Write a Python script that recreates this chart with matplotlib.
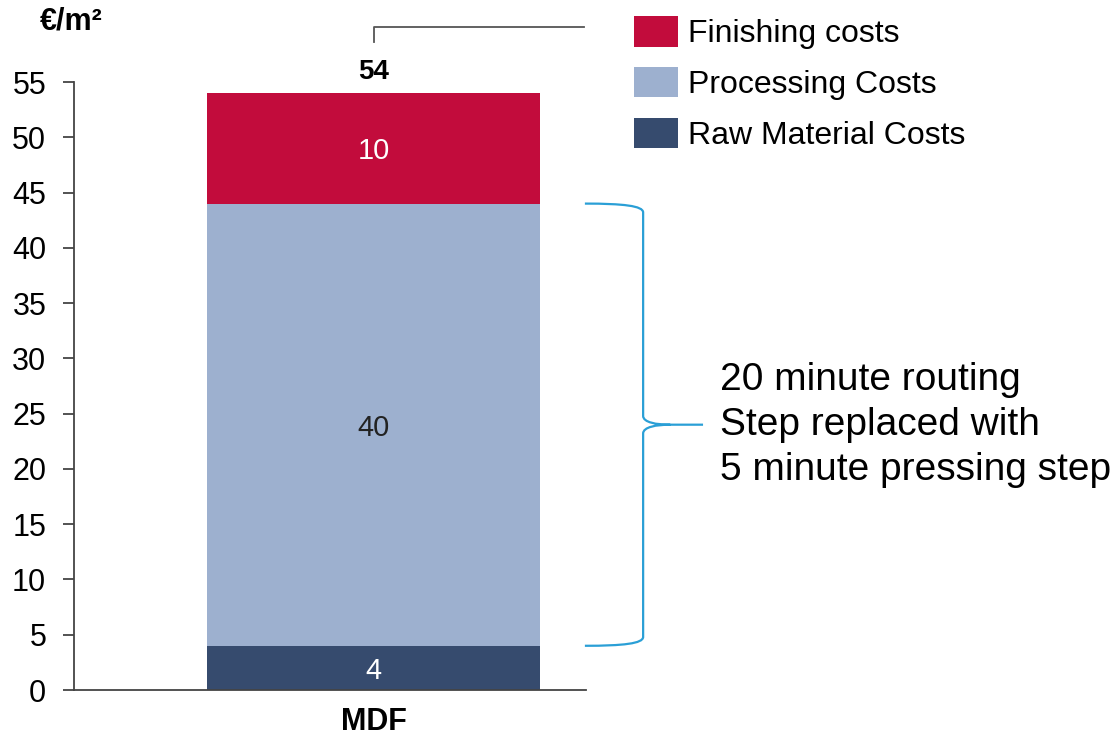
import matplotlib.pyplot as plt
from matplotlib.path import Path
from matplotlib.patches import PathPatch

plt.rcParams['font.family'] = ['Liberation Sans', 'DejaVu Sans']

categories = ["MDF"]
raw_material = [4]
processing = [40]
finishing = [10]
series_names = ["Raw Material Costs", "Processing Costs", "Finishing costs"]
colors = ["#364B6E", "#9DB0CF", "#C20C3C"]
note = "20 minute routing\nStep replaced with\n5 minute pressing step"

fig = plt.figure(figsize=(11.2, 7.41), dpi=100)
ax = fig.add_axes([74 / 1120, 1 - 690 / 741, (586 - 74) / 1120, (690 - 82) / 741])

x = [0]
w = 0.6
bottoms = [0]
bars = []
for vals, name, col in zip([raw_material, processing, finishing], series_names, colors):
    b = ax.bar(x, vals, w, bottom=bottoms, color=col, label=name, linewidth=0)
    bars.append(b)
    for xi, v, bt in zip(x, vals, bottoms):
        tc = "#222222" if col == "#9DB0CF" else "white"
        ax.text(xi, bt + v / 2, str(v), ha="center", va="center_baseline",
                fontsize=21, color=tc)
    bottoms = [bt + v for bt, v in zip(bottoms, vals)]

totals = bottoms
for xi, t in zip(x, totals):
    ax.annotate(str(t), (xi, t), xytext=(0, 6), textcoords="offset points",
                ha="center", va="bottom", fontsize=20, fontweight="bold")
    # little connector line above the total
    ax.plot([xi, xi, 0.379], [t + 4.6, t + 6.0, t + 6.0], color="#555555", lw=1.3,
            clip_on=False)

ax.set_xlim(-0.54, 0.383)
ax.set_ylim(0, 55)
ax.set_yticks(range(0, 56, 5))
ax.set_xticks(x)
ax.set_xticklabels(categories, fontsize=22, fontweight="bold")
ax.tick_params(axis="x", length=0, pad=12)
ax.tick_params(axis="y", length=8, width=1.3, labelsize=22, pad=12, color="#444444")
for s in ["top", "right"]:
    ax.spines[s].set_visible(False)
ax.spines["left"].set_color("#444444")
ax.spines["bottom"].set_color("#444444")
ax.spines["left"].set_linewidth(1.3)
ax.spines["bottom"].set_linewidth(1.3)

# curly brace around the processing segment
y0 = raw_material[0]
y1 = raw_material[0] + processing[0]
ym = (y0 + y1) / 2
xa, xb, xc, xt = 0.381, 0.486, 0.535, 0.594
d = 0.8
verts = [(xa, y1), (0.45, y1), (xb, y1 - 0.2), (xb, y1 - d),
         (xb, ym + d),
         (xb, ym + 0.2), (0.51, ym), (xc, ym),
         (xt, ym),
         (xc, ym),
         (0.51, ym), (xb, ym - 0.2), (xb, ym - d),
         (xb, y0 + d),
         (xb, y0 + 0.2), (0.45, y0), (xa, y0)]
codes = [Path.MOVETO, Path.CURVE4, Path.CURVE4, Path.CURVE4,
         Path.LINETO,
         Path.CURVE4, Path.CURVE4, Path.CURVE4,
         Path.LINETO,
         Path.MOVETO,
         Path.CURVE4, Path.CURVE4, Path.CURVE4,
         Path.LINETO,
         Path.CURVE4, Path.CURVE4, Path.CURVE4]
ax.add_patch(PathPatch(Path(verts, codes), fill=False, edgecolor="#2A9FD6", lw=1.6,
                       clip_on=False))
ax.text(0.625, ym, note, ha="left", va="center", fontsize=28, linespacing=1.32,
        clip_on=False)

fig.text(40 / 1120, 1 - 21 / 741, "€/m²", ha="left", va="center", fontsize=22,
         fontweight="bold")

handles = [bars[2], bars[1], bars[0]]
labels = [series_names[2], series_names[1], series_names[0]]
fig.legend(handles, labels, loc="upper left", bbox_to_anchor=(634 / 1120, 1 - 16 / 741),
           frameon=False, fontsize=23, handlelength=1.38, handleheight=1.1,
           handletextpad=0.3, labelspacing=0.55, borderpad=0, borderaxespad=0)

fig.savefig("out.png", dpi=100)
